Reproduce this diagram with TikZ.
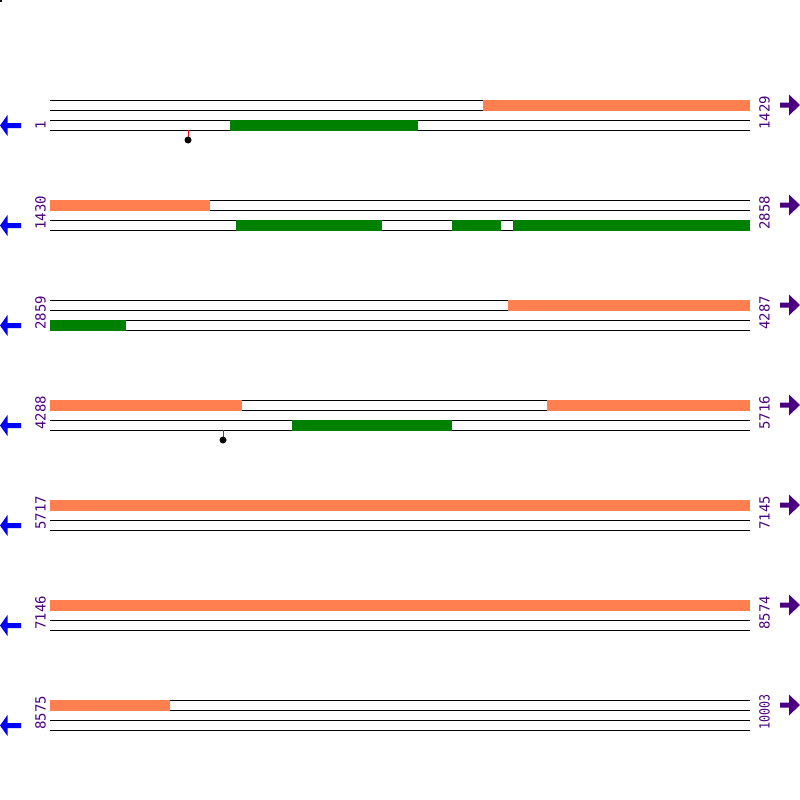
\documentclass[tikz,border=0pt]{standalone}
\usepackage{fontspec}
\newfontfamily\monofont{DejaVu Sans Mono}
\definecolor{coral}{HTML}{FF7F50}
\definecolor{gene}{HTML}{008000}
\definecolor{indigo}{HTML}{4B0082}

\begin{document}
\begin{tikzpicture}[x=1pt,y=-1pt]
  \tikzstyle{track}=[black, line width=1pt];
  \tikzstyle{poslabel}=[font=\monofont\fontsize{14}{14}\selectfont, text=indigo, inner sep=0, rotate=90, anchor=base west];
  \tikzstyle{repeatbar}=[fill=coral];
  \tikzstyle{genebar}=[fill=gene];

  \useasboundingbox (0,0) rectangle (800,800);
  \fill (0,0) rectangle (2,2);

  % tracks, positions and strand arrows
  \foreach \first/\last [count=\i from 0] in {1/1429, 1430/2858, 2859/4287, 4288/5716,
      5717/7145, 7146/8574, 8575/{\scalebox{0.83}[1]{10003}}} {
    \pgfmathsetmacro{\y}{100+100*\i}
    \foreach \d in {0,10,20,30}
      \draw[track] (50,\y+\d) -- (750,\y+\d);
    \node[poslabel] (first\i) at (45.5,\y+30) {\first};
    \node[poslabel] (last\i) at (769.5,\y+30) {\last};
    \fill[blue] (0,\y+25.5) -- (7.5,\y+15) -- (7.5,\y+23) -- (21,\y+23)
      -- (21,\y+28) -- (7.5,\y+28) -- (7.5,\y+36) -- cycle;
    \fill[indigo] (800,\y+5) -- (789,\y-5.5) -- (789,\y+2.5) -- (780,\y+2.5)
      -- (780,\y+7.5) -- (789,\y+7.5) -- (789,\y+15.5) -- cycle;
  }

  % upper strand features
  \foreach \a/\b/\y in {483/750/100, 50/210/200, 508/750/300, 50/242/400,
      547/750/400, 50/750/500, 50/750/600, 50/170/700}
    \fill[repeatbar] (\a,\y-0.5) rectangle (\b,\y+10.5);

  % lower strand features
  \foreach \a/\b/\y in {230/418/120, 236/382/220, 452/501/220, 513/750/220,
      50/126/320, 292/452/420}
    \fill[genebar] (\a,\y-0.5) rectangle (\b,\y+10.5);

  % sites
  \foreach \x/\y in {188/130, 223/430} {
    \draw[red, line width=1pt] (\x,\y) -- (\x,\y+7);
    \fill (\x,\y+10) circle (3.5);
  }
\end{tikzpicture}
\end{document}
